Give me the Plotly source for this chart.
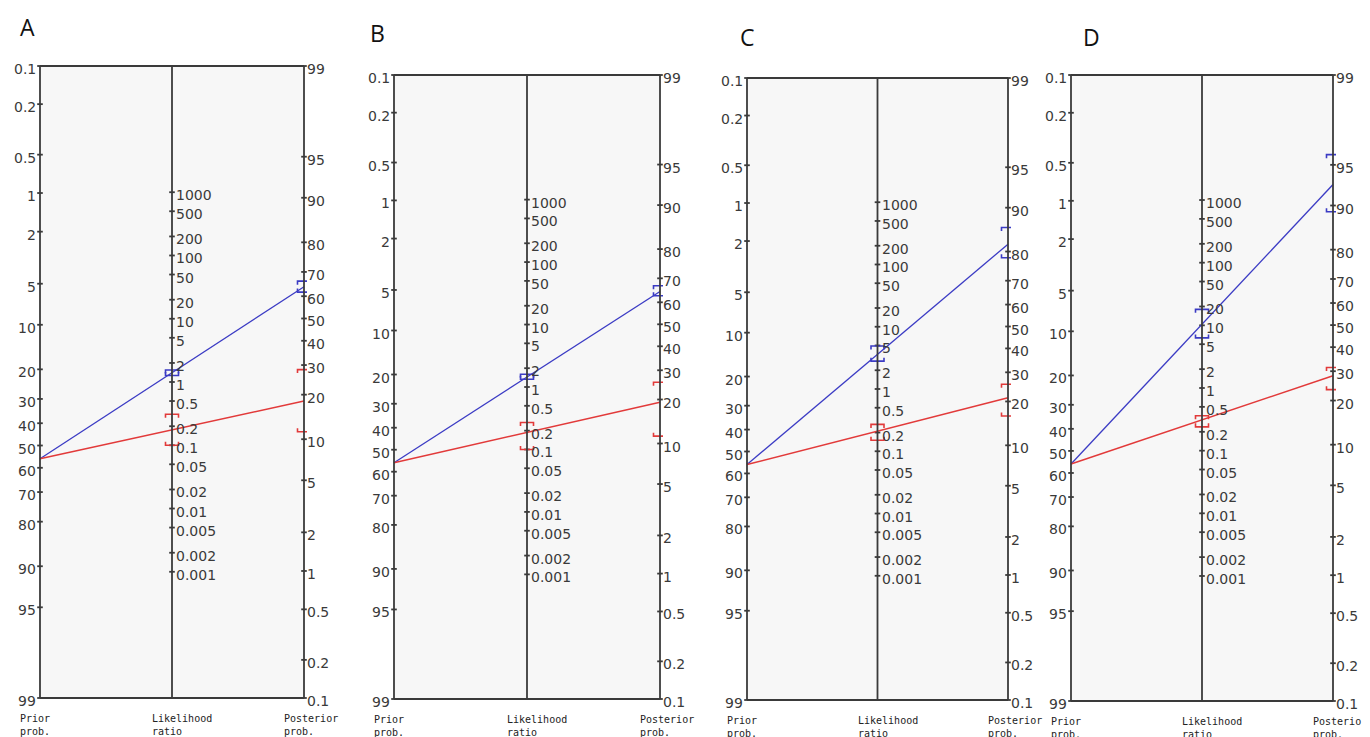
import numpy as np
import plotly.graph_objects as go

# page is rendered with the browser's default 8px body margin -> compensate
OX, OY = 8, 8
PAGE_W, PAGE_H = 1370, 737
W, H = PAGE_W - OX, PAGE_H - OY

# ---------------- data ----------------
panel_names = ["A", "B", "C", "D"]
prior_pct = [56, 56, 56, 56]                 # pre-test probability (%)
lr_pos = [1.40, 1.44, 3.6, 10.4]             # positive likelihood ratio (blue)
lr_pos_lo = [1.27, 1.33, 2.8, 6.3]
lr_pos_hi = [1.55, 1.60, 4.9, 18.0]
lr_neg = [0.175, 0.187, 0.21, 0.31]          # negative likelihood ratio (red)
lr_neg_lo = [0.10, 0.10, 0.15, 0.24]
lr_neg_hi = [0.31, 0.27, 0.27, 0.36]

prior_ticks = [0.1, 0.2, 0.5, 1, 2, 5, 10, 20, 30, 40, 50, 60, 70, 80, 90, 95, 99]
lr_ticks = [1000, 500, 200, 100, 50, 20, 10, 5, 2, 1, 0.5, 0.2, 0.1, 0.05, 0.02,
            0.01, 0.005, 0.002, 0.001]
post_ticks = [99, 95, 90, 80, 70, 60, 50, 40, 30, 20, 10, 5, 2, 1, 0.5, 0.2, 0.1]

# ---------------- layout geometry (page pixels) ----------------
panel_box = [  # left axis x, right axis x, top y, bottom y
    (40, 304, 66, 698),
    (394, 660, 75, 699),
    (747, 1008, 78, 700),
    (1071, 1333, 75, 701),
]
title_pos = [(27, 27), (377, 33), (747, 37), (1091, 37)]

BLUE = "#3b3bc4"
RED = "#e23a3a"
AX = "#3a3a3a"
TXT = "#3a3a3a"
BG = "#f7f7f7"


def logit(p):
    return np.log(p / (1 - p))


P_TOP_L = 0.001   # left axis top (0.1 %)
P_TOP_R = 0.99    # right axis top (99 %)
U = logit(P_TOP_R) - logit(P_TOP_L)


def u_left(pct):
    return logit(np.asarray(pct, float) / 100) - logit(P_TOP_L)


def u_right(pct):
    return logit(P_TOP_R) - logit(np.asarray(pct, float) / 100)


def u_mid(lr):
    return (U - np.log(np.asarray(lr, float))) / 2


def post_pct(prior, lr):
    o = prior / (100 - prior) * lr
    return 100 * o / (1 + o)


fig = go.Figure()
layout = dict(width=W, height=H, margin=dict(l=0, r=0, t=0, b=0),
              paper_bgcolor="white", plot_bgcolor="rgba(0,0,0,0)",
              showlegend=False, shapes=[], annotations=[])

PAD = 3  # px of padding around the frame so border lines are not clipped
for i, name in enumerate(panel_names):
    x0, x2, y0, y1 = panel_box[i]
    x0 -= OX; x2 -= OX; y0 -= OY; y1 -= OY
    sx = (x2 - x0) / 2.0       # px per x unit
    sy = (y1 - y0) / U         # px per u unit
    xa = "x" if i == 0 else f"x{i+1}"
    ya = "y" if i == 0 else f"y{i+1}"
    xk = "xaxis" if i == 0 else f"xaxis{i+1}"
    yk = "yaxis" if i == 0 else f"yaxis{i+1}"
    layout[xk] = dict(domain=[(x0 - PAD) / W, (x2 + PAD) / W],
                      range=[-PAD / sx, 2 + PAD / sx], visible=False,
                      fixedrange=True, anchor=ya)
    layout[yk] = dict(domain=[1 - (y1 + PAD) / H, 1 - (y0 - PAD) / H],
                      range=[U + PAD / sy, -PAD / sy], visible=False,
                      fixedrange=True, anchor=xa)

    # background + frame
    layout["shapes"].append(dict(type="rect", xref=xa, yref=ya, x0=0, x1=2, y0=0, y1=U,
                                 fillcolor=BG, line=dict(width=0), layer="below"))
    for xv in (0, 1, 2):
        layout["shapes"].append(dict(type="line", xref=xa, yref=ya, x0=xv, x1=xv,
                                     y0=0, y1=U, line=dict(color=AX, width=1.8)))
    for yv in (0, U):
        layout["shapes"].append(dict(type="line", xref=xa, yref=ya, x0=0, x1=2,
                                     y0=yv, y1=yv, line=dict(color=AX, width=2)))

    # tick marks
    tx = [0] * len(prior_ticks) + [1] * len(lr_ticks) + [2] * len(post_ticks)
    ty = list(u_left(prior_ticks)) + list(u_mid(lr_ticks)) + list(u_right(post_ticks))
    fig.add_trace(go.Scatter(x=tx, y=ty, mode="markers", xaxis=xa, yaxis=ya,
                             marker=dict(symbol="line-ew", size=4,
                                         line=dict(color=AX, width=1.8)),
                             cliponaxis=False, hoverinfo="skip"))

    # tick labels
    tf = dict(family="DejaVu Sans", size=14, color=TXT)
    for v, uu in zip(prior_ticks, u_left(prior_ticks)):
        layout["annotations"].append(dict(x=0, y=uu, xref=xa, yref=ya, text=f"{v:g}",
                                          showarrow=False, xanchor="right", yanchor="middle",
                                          xshift=-2, yshift=-3, font=tf))
    for v, uu in zip(lr_ticks, u_mid(lr_ticks)):
        layout["annotations"].append(dict(x=1, y=uu, xref=xa, yref=ya, text=f"{v:g}",
                                          showarrow=False, xanchor="left", yanchor="middle",
                                          xshift=2, yshift=-3, font=tf))
    for v, uu in zip(post_ticks, u_right(post_ticks)):
        layout["annotations"].append(dict(x=2, y=uu, xref=xa, yref=ya, text=f"{v:g}",
                                          showarrow=False, xanchor="left", yanchor="middle",
                                          xshift=1, yshift=-3, font=tf))

    # bottom axis names
    bf = dict(family="DejaVu Sans Mono", size=10, color="#222")
    for xv, txt in zip((0, 1, 2), ("Prior<br>prob.", "Likelihood<br>ratio", "Posterior<br>prob.")):
        layout["annotations"].append(dict(x=xv, y=U, xref=xa, yref=ya, text=txt,
                                          showarrow=False, xanchor="left", yanchor="top",
                                          xshift=-22, yshift=-13, align="left", font=bf))

    # panel letter
    tx_, ty_ = title_pos[i]
    layout["annotations"].append(dict(x=(tx_ - OX) / W, y=1 - (ty_ - OY) / H,
                                      xref="paper", yref="paper",
                                      text=name, showarrow=False, xanchor="center",
                                      yanchor="middle",
                                      font=dict(family="Open Sans", size=23, color="#111")))

    # nomogram lines and CI brackets
    bw = 6.5 / sx
    bh = 3.5 / sy
    series = [(lr_pos[i], lr_pos_lo[i], lr_pos_hi[i], BLUE, 1.3),
              (lr_neg[i], lr_neg_lo[i], lr_neg_hi[i], RED, 1.5)]
    for lr, lo, hi, col, lw in series:
        pr = prior_pct[i]
        po = post_pct(pr, lr)
        fig.add_trace(go.Scatter(x=[0, 2], y=[float(u_left(pr)), float(u_right(po))],
                                 mode="lines", xaxis=xa, yaxis=ya,
                                 line=dict(color=col, width=lw), hoverinfo="skip"))
        bx, by = [], []
        ends = [(1, float(u_mid(hi)), 1), (1, float(u_mid(lo)), -1),
                (2, float(u_right(post_pct(pr, hi))), 1),
                (2, float(u_right(post_pct(pr, lo))), -1)]
        for cx, cu, d in ends:
            bx += [cx - bw, cx - bw, cx + bw, cx + bw, None]
            by += [cu + d * bh, cu, cu, cu + d * bh, None]
        fig.add_trace(go.Scatter(x=bx, y=by, mode="lines", xaxis=xa, yaxis=ya,
                                 line=dict(color=col, width=1.6), cliponaxis=False,
                                 hoverinfo="skip"))

fig.update_layout(**layout)
fig.write_html("out.html")
